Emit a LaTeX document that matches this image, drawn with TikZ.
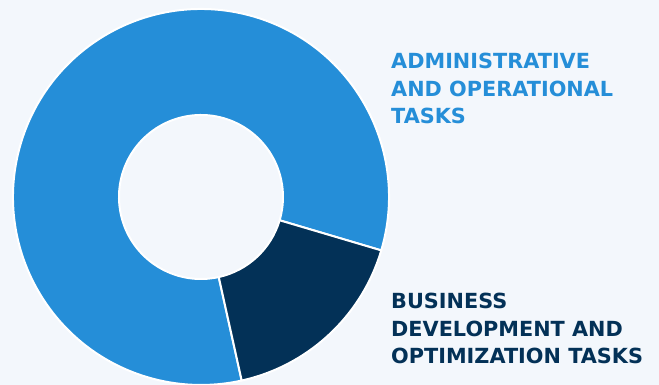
\documentclass[tikz,border=0pt]{standalone}
\usepackage{fontspec}
\setmainfont{DejaVu Sans}
\usetikzlibrary{positioning}
\definecolor{pagebg}{HTML}{F3F7FC}
\definecolor{adminblue}{HTML}{258ED8}
\definecolor{bizblue}{HTML}{033157}

\begin{document}
\begin{tikzpicture}[x=1pt,y=1pt]

\tikzset{slice/.style={draw=white, line width=2pt, line join=round},
  legend label/.style={anchor=north west, inner sep=0pt, align=left,
    font=\fontsize{20.8}{27.5}\selectfont\bfseries}
}

\fill[pagebg] (0,0) rectangle (659,385);
\useasboundingbox (0,0) rectangle (659,385);
\coordinate (c) at (201,188);

% administrative and operational
\path[slice, fill=adminblue] ([shift={(-16.5:188)}]c)
  arc[start angle=-16.5, end angle=282.5, radius=188]
  -- ([shift={(282.5:82)}]c)
  arc[start angle=282.5, end angle=-16.5, radius=82] -- cycle;
% business development
\path[slice, fill=bizblue] ([shift={(-77.5:188)}]c)
  arc[start angle=-77.5, end angle=-16.5, radius=188]
  -- ([shift={(-16.5:82)}]c)
  arc[start angle=-16.5, end angle=-77.5, radius=82] -- cycle;

\node[legend label, text=adminblue] (admin) at (391,332)
  {ADMINISTRATIVE\\AND OPERATIONAL\\TASKS};
\node[legend label, text=bizblue] (biz) at (391,92)
  {BUSINESS\\DEVELOPMENT AND\\OPTIMIZATION TASKS};

\end{tikzpicture}
\end{document}
